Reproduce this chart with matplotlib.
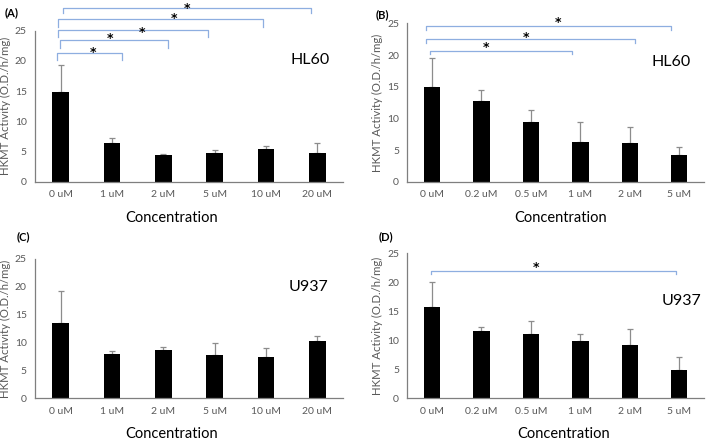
import matplotlib.pyplot as plt

plt.rcParams['font.family'] = ['Lato', 'DejaVu Sans']

conc_ac = ['0 uM', '1 uM', '2 uM', '5 uM', '10 uM', '20 uM']
conc_bd = ['0 uM', '0.2 uM', '0.5 uM', '1 uM', '2 uM', '5 uM']

vals_a = [14.8, 6.45, 4.5, 4.8, 5.5, 4.8]
err_a = [4.6, 0.75, 0.1, 0.45, 0.35, 1.55]
vals_b = [14.9, 12.8, 9.5, 6.3, 6.05, 4.2]
err_b = [4.7, 1.6, 1.8, 3.1, 2.65, 1.3]
vals_c = [13.5, 7.95, 8.7, 7.7, 7.4, 10.3]
err_c = [5.8, 0.55, 0.45, 2.2, 1.6, 0.85]
vals_d = [15.8, 11.67, 11.1, 9.8, 9.2, 4.94]
err_d = [4.2, 0.63, 2.2, 1.2, 2.8, 2.1]

# significance brackets: (x start, x end, line level, end level, star x, star y)
sig_a = [(-0.07, 1.2, 21.4, 20.1, 0.63, 22.1),
         (-0.02, 2.1, 23.5, 22.1, 0.96, 24.3),
         (-0.05, 2.87, 25.1, 23.9, 1.58, 25.4),
         (-0.05, 3.94, 26.9, 25.7, 2.2, 27.6),
         (0.05, 4.88, 28.7, 28.0, 2.46, 29.3)]
sig_b = [(-0.05, 2.82, 20.6, 20.1, 1.09, 21.7),
         (-0.13, 4.1, 22.5, 21.9, 1.9, 23.4),
         (-0.13, 4.83, 24.6, 24.0, 2.55, 25.7)]
sig_c = []
sig_d = [(-0.03, 4.94, 22.0, 21.4, 2.1, 23.2)]

fig = plt.figure(figsize=(7.09, 4.40), dpi=100)

panels = [
    ('(A)', 'HL60', conc_ac, vals_a, err_a, sig_a, [0.0494, 0.587, 0.4344, 0.343]),
    ('(B)', 'HL60', conc_bd, vals_b, err_b, sig_b, [0.5745, 0.587, 0.4185, 0.36]),
    ('(C)', 'U937', conc_ac, vals_c, err_c, sig_c, [0.0494, 0.0948, 0.4344, 0.3166]),
    ('(D)', 'U937', conc_bd, vals_d, err_d, sig_d, [0.5745, 0.0948, 0.4185, 0.3295]),
]

label_pos = {'(A)': (5, 13), '(B)': (376, 15), '(C)': (17, 237), '(D)': (379, 237)}
cell_pos = {'(A)': (330, 60), '(B)': (691, 62), '(C)': (328, 287), '(D)': (701, 301)}
xlab_pos = {'(A)': (172, 218), '(B)': (561, 218), '(C)': (172, 434), '(D)': (564, 434)}

W, H = 709, 440
gray = '#595959'
blue = '#8eaee0'

for tag, cell, cats, vals, errs, sigs, rect in panels:
    ax = fig.add_axes(rect)
    x = list(range(len(cats)))
    ax.bar(x, vals, width=0.33, color='black', zorder=2)
    ax.errorbar(x, vals, yerr=[[0] * len(errs), errs], fmt='none',
                ecolor='#8c8c8c', elinewidth=0.9, capsize=2.5, capthick=0.9, zorder=1)
    ax.set_xlim(-0.5, len(cats) - 0.5)
    ax.set_ylim(0, 25)
    ax.set_yticks([0, 5, 10, 15, 20, 25])
    ax.set_xticks(x)
    ax.set_xticklabels(cats)
    ax.tick_params(length=0, labelsize=7.5, colors=gray, pad=6)
    for s in ['top', 'right']:
        ax.spines[s].set_visible(False)
    for s in ['left', 'bottom']:
        ax.spines[s].set_color('#7f7f7f')
        ax.spines[s].set_linewidth(0.9)
    ax.set_ylabel('HKMT Activity (O.D./h/mg)', fontsize=8.2, color=gray, labelpad=3)

    for x0, x1, lv, ev, sx, sy in sigs:
        ax.plot([x0, x0, x1, x1], [ev, lv, lv, ev], color=blue, lw=0.9, clip_on=False)
        # asterisk glyph sits high in its box, so shift baseline down to centre it on sy
        ax.annotate('*', (sx, sy), xytext=(0, -5.2), textcoords='offset points',
                    ha='center', va='baseline', fontsize=9, fontweight='bold',
                    color='black', family='DejaVu Sans', annotation_clip=False)

    lx, ly = label_pos[tag]
    fig.text(lx / W, 1 - ly / H, tag, fontsize=8, fontweight='bold', va='center')
    cx, cy = cell_pos[tag]
    fig.text(cx / W, 1 - cy / H, cell, fontsize=11.5, ha='right', va='center')
    tx, ty = xlab_pos[tag]
    fig.text(tx / W, 1 - ty / H, 'Concentration', fontsize=10.5, ha='center', va='center')

fig.savefig('out.png', dpi=100)
